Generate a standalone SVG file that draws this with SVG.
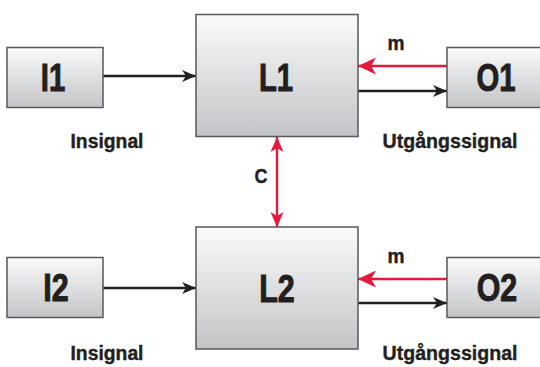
<svg xmlns="http://www.w3.org/2000/svg" width="540" height="367" viewBox="0 0 540 367">
  <defs>
    <linearGradient id="boxFill" x1="0" y1="0" x2="0" y2="1">
      <stop offset="0" stop-color="#fbfbfb"/>
      <stop offset="1" stop-color="#c3c4c7"/>
    </linearGradient>
    <!-- notched arrowheads: small black, large red, medium red (both ends) -->
    <marker id="headBlack" viewBox="0 0 14 12" refX="14" refY="6" markerWidth="14" markerHeight="12" markerUnits="userSpaceOnUse" orient="auto">
      <path d="M0,0 L14,6 L0,12 L4,6 Z" fill="#231f20"/>
    </marker>
    <marker id="headRed" viewBox="0 0 18 17" refX="18" refY="8.5" markerWidth="18" markerHeight="17" markerUnits="userSpaceOnUse" orient="auto">
      <path d="M0,0 L18,8.5 L0,17 L5,8.5 Z" fill="#e8173c"/>
    </marker>
    <marker id="headRedBoth" viewBox="0 0 15 13" refX="15" refY="6.5" markerWidth="15" markerHeight="13" markerUnits="userSpaceOnUse" orient="auto-start-reverse">
      <path d="M0,0 L15,6.5 L0,13 L4,6.5 Z" fill="#e8173c"/>
    </marker>
  </defs>
  <style>
    .box { fill: url(#boxFill); stroke: #58585a; stroke-width: 1.5; }
    .name { font-family: "Liberation Sans", Arial, sans-serif; font-weight: bold; font-size: 38px; fill: #231f20; stroke: #231f20; stroke-width: 1; text-anchor: middle; }
    .label { font-family: "Liberation Sans", Arial, sans-serif; font-weight: bold; font-size: 21px; fill: #231f20; stroke: #231f20; stroke-width: 0.4; text-anchor: middle; }
    .sig { stroke: #231f20; stroke-width: 2.4; fill: none; marker-end: url(#headBlack); }
    .fb { stroke: #e8173c; stroke-width: 2.4; fill: none; marker-end: url(#headRed); }
    .cpl { stroke: #e8173c; stroke-width: 2.4; fill: none; marker-start: url(#headRedBoth); marker-end: url(#headRedBoth); }
  </style>

  <g id="connectors">
    <line class="sig" x1="103" y1="76" x2="196" y2="76"/>
    <line class="fb" x1="447" y1="66" x2="358" y2="66"/>
    <line class="sig" x1="358" y1="91" x2="447" y2="91"/>
    <line class="sig" x1="103" y1="288" x2="196" y2="288"/>
    <line class="fb" x1="447" y1="279" x2="358" y2="279"/>
    <line class="sig" x1="358" y1="303" x2="447" y2="303"/>
    <line class="cpl" x1="277" y1="137" x2="277" y2="227"/>
  </g>

  <g id="I1">
    <rect class="box" x="7" y="47.5" width="96" height="60"/>
    <text class="name" transform="translate(53 91) scale(0.77 1)">I1</text>
    <text class="label" x="107" y="148" textLength="73" lengthAdjust="spacingAndGlyphs">Insignal</text>
  </g>
  <g id="L1">
    <rect class="box" x="196" y="14.5" width="162" height="122"/>
    <text class="name" transform="translate(276 91) scale(0.77 1)">L1</text>
  </g>
  <g id="O1">
    <rect class="box" x="447" y="47.5" width="96" height="60"/>
    <text class="name" transform="translate(496 91) scale(0.77 1)">O1</text>
    <text class="label" x="396" y="50" textLength="17" lengthAdjust="spacingAndGlyphs">m</text>
    <text class="label" x="450" y="148" textLength="135" lengthAdjust="spacingAndGlyphs">Utgångssignal</text>
  </g>
  <g id="C">
    <text class="label" x="261" y="183" textLength="13" lengthAdjust="spacingAndGlyphs">C</text>
  </g>
  <g id="I2">
    <rect class="box" x="7" y="257.5" width="96" height="60"/>
    <text class="name" transform="translate(56 301) scale(0.8 1)">I2</text>
    <text class="label" x="107" y="360" textLength="73" lengthAdjust="spacingAndGlyphs">Insignal</text>
  </g>
  <g id="L2">
    <rect class="box" x="196" y="227" width="162" height="122"/>
    <text class="name" transform="translate(277 302) scale(0.8 1)">L2</text>
  </g>
  <g id="O2">
    <rect class="box" x="447" y="257.5" width="96" height="60"/>
    <text class="name" transform="translate(497 301) scale(0.8 1)">O2</text>
    <text class="label" x="396" y="263" textLength="17" lengthAdjust="spacingAndGlyphs">m</text>
    <text class="label" x="450" y="360" textLength="135" lengthAdjust="spacingAndGlyphs">Utgångssignal</text>
  </g>
</svg>
